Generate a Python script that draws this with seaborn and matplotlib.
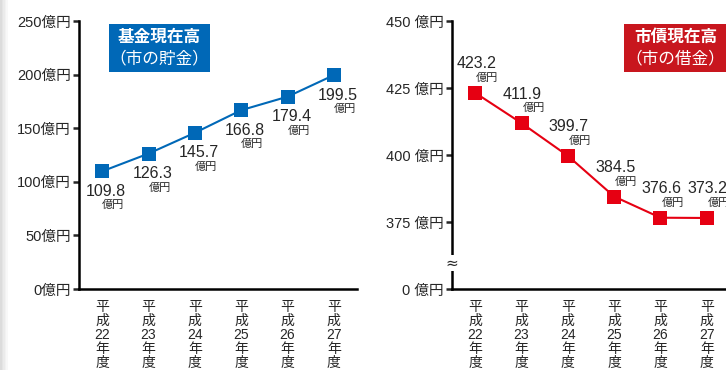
import matplotlib
matplotlib.use('Agg')
import matplotlib.pyplot as plt
import matplotlib.patches as patches
import seaborn as sns
import pandas as pd

# datos del grafico
years = ['平\n成\n22\n年\n度', '平\n成\n23\n年\n度', '平\n成\n24\n年\n度',
         '平\n成\n25\n年\n度', '平\n成\n26\n年\n度', '平\n成\n27\n年\n度']
fund = [109.8, 126.3, 145.7, 166.8, 179.4, 199.5]
fund_labels = ['109.8', '126.3', '145.7', '166.8', '179.4', '199.5']
debt = [423.2, 411.9, 399.7, 384.5, 376.6, 376.5]
debt_labels = ['423.2', '411.9', '399.7', '384.5', '376.6', '373.2']
fund_ticks = [0, 50, 100, 150, 200, 250]
fund_ticklabels = ['0億円', '50億円', '100億円', '150億円', '200億円', '250億円']
debt_ticks = [350, 375, 400, 425, 450]
debt_ticklabels = ['0 億円', '375 億円', '400 億円', '425 億円', '450 億円']

sns.set_style('white')
# digitos tipo Helvetica, kanji con Noto CJK
plt.rcParams['font.family'] = ['Liberation Sans', 'Noto Sans CJK JP', 'DejaVu Sans']

W, H = 726, 370
fig = plt.figure(figsize=(W / 100, H / 100), dpi=100)
fig.patch.set_facecolor('white')

BLUE = '#0068b7'
RED = '#e60012'


def px_axes(x0, y_top, w, h):
    return fig.add_axes([x0 / W, (H - y_top - h) / H, w / W, h / H])


def style_axes(ax, ticks, ticklabels, ylim):
    ax.set_xlim(-0.5, 5.5)
    ax.set_ylim(*ylim)
    for s in ['top', 'right']:
        ax.spines[s].set_visible(False)
    for s in ['left', 'bottom']:
        ax.spines[s].set_linewidth(1.8)
        ax.spines[s].set_color('black')
    ax.set_yticks(ticks)
    ax.set_yticklabels(ticklabels, fontsize=10.5)
    ax.set_xticks(range(6))
    ax.set_xticklabels(years, fontsize=10, linespacing=1.0, va='top')
    ax.set_xticks([i + 0.5 for i in range(6)], minor=True)
    ax.tick_params(axis='x', which='major', length=0, pad=8)
    ax.tick_params(axis='x', which='minor', length=4, width=1.8, direction='out')
    ax.tick_params(axis='y', length=4, width=1.8, direction='out', pad=2, left=True)
    ax.set_xlabel('')
    ax.set_ylabel('')
    ax.patch.set_alpha(0)


# panel izquierdo: fondos
ax1 = px_axes(79, 21, 278, 268)
df1 = pd.DataFrame({'x': range(6), 'y': fund})
sns.lineplot(data=df1, x='x', y='y', ax=ax1, color=BLUE, linewidth=1.5,
             marker='s', markersize=9.5, markeredgewidth=0, clip_on=False)
style_axes(ax1, fund_ticks, fund_ticklabels, (0, 250))
for i, (v, lab) in enumerate(zip(fund, fund_labels)):
    ax1.annotate(lab, (i, v), xytext=(4, -20), textcoords='offset pixels',
                 ha='center', va='center', fontsize=11.5)
    ax1.annotate('億円', (i, v), xytext=(11, -34), textcoords='offset pixels',
                 ha='center', va='center', fontsize=8)

# panel derecho: deuda
ax2 = px_axes(452, 21, 278, 268)
df2 = pd.DataFrame({'x': range(6), 'y': debt})
sns.lineplot(data=df2, x='x', y='y', ax=ax2, color=RED, linewidth=1.5,
             marker='s', markersize=9.5, markeredgewidth=0, clip_on=False)
style_axes(ax2, debt_ticks, debt_ticklabels, (350, 450))
for i, (v, lab) in enumerate(zip(debt, debt_labels)):
    ax2.annotate(lab, (i, v), xytext=(1, 29), textcoords='offset pixels',
                 ha='center', va='center', fontsize=11.5)
    ax2.annotate('億円', (i, v), xytext=(12, 15), textcoords='offset pixels',
                 ha='center', va='center', fontsize=8)

# simbolo de corte en el eje
ax2.text(-0.5, 359.7, '≈', ha='center', va='center', fontsize=11,
         family='DejaVu Sans', zorder=10, clip_on=False,
         bbox=dict(facecolor='white', edgecolor='none', pad=0.5))

# cajas de titulo
def title_box(x0, x1, color, line1, line2):
    fig.add_artist(patches.Rectangle((x0 / W, (H - 72) / H), (x1 - x0) / W, 48 / H,
                                     transform=fig.transFigure, facecolor=color,
                                     edgecolor='none'))
    xc = (x0 + x1) / 2 / W
    fig.text(xc, (H - 37) / H, line1, color='white', fontsize=12,
             fontweight='bold', ha='center', va='center')
    fig.text(xc, (H - 58) / H, line2, color='white', fontsize=12,
             ha='center', va='center')


title_box(109, 210, BLUE, '基金現在高', '（市の貯金）')
title_box(624, 727, '#c8161e', '市債現在高', '（市の借金）')

# sombra del borde izquierdo (degradado)
for k, c in enumerate(['#dcdcdc', '#e4e4e4', '#ebebeb', '#f2f2f2', '#f8f8f8']):
    fig.add_artist(patches.Rectangle((k * 1.5 / W, 0), 1.5 / W, 1,
                                     transform=fig.transFigure,
                                     facecolor=c, edgecolor='none'))

fig.savefig('out.png', dpi=100)
